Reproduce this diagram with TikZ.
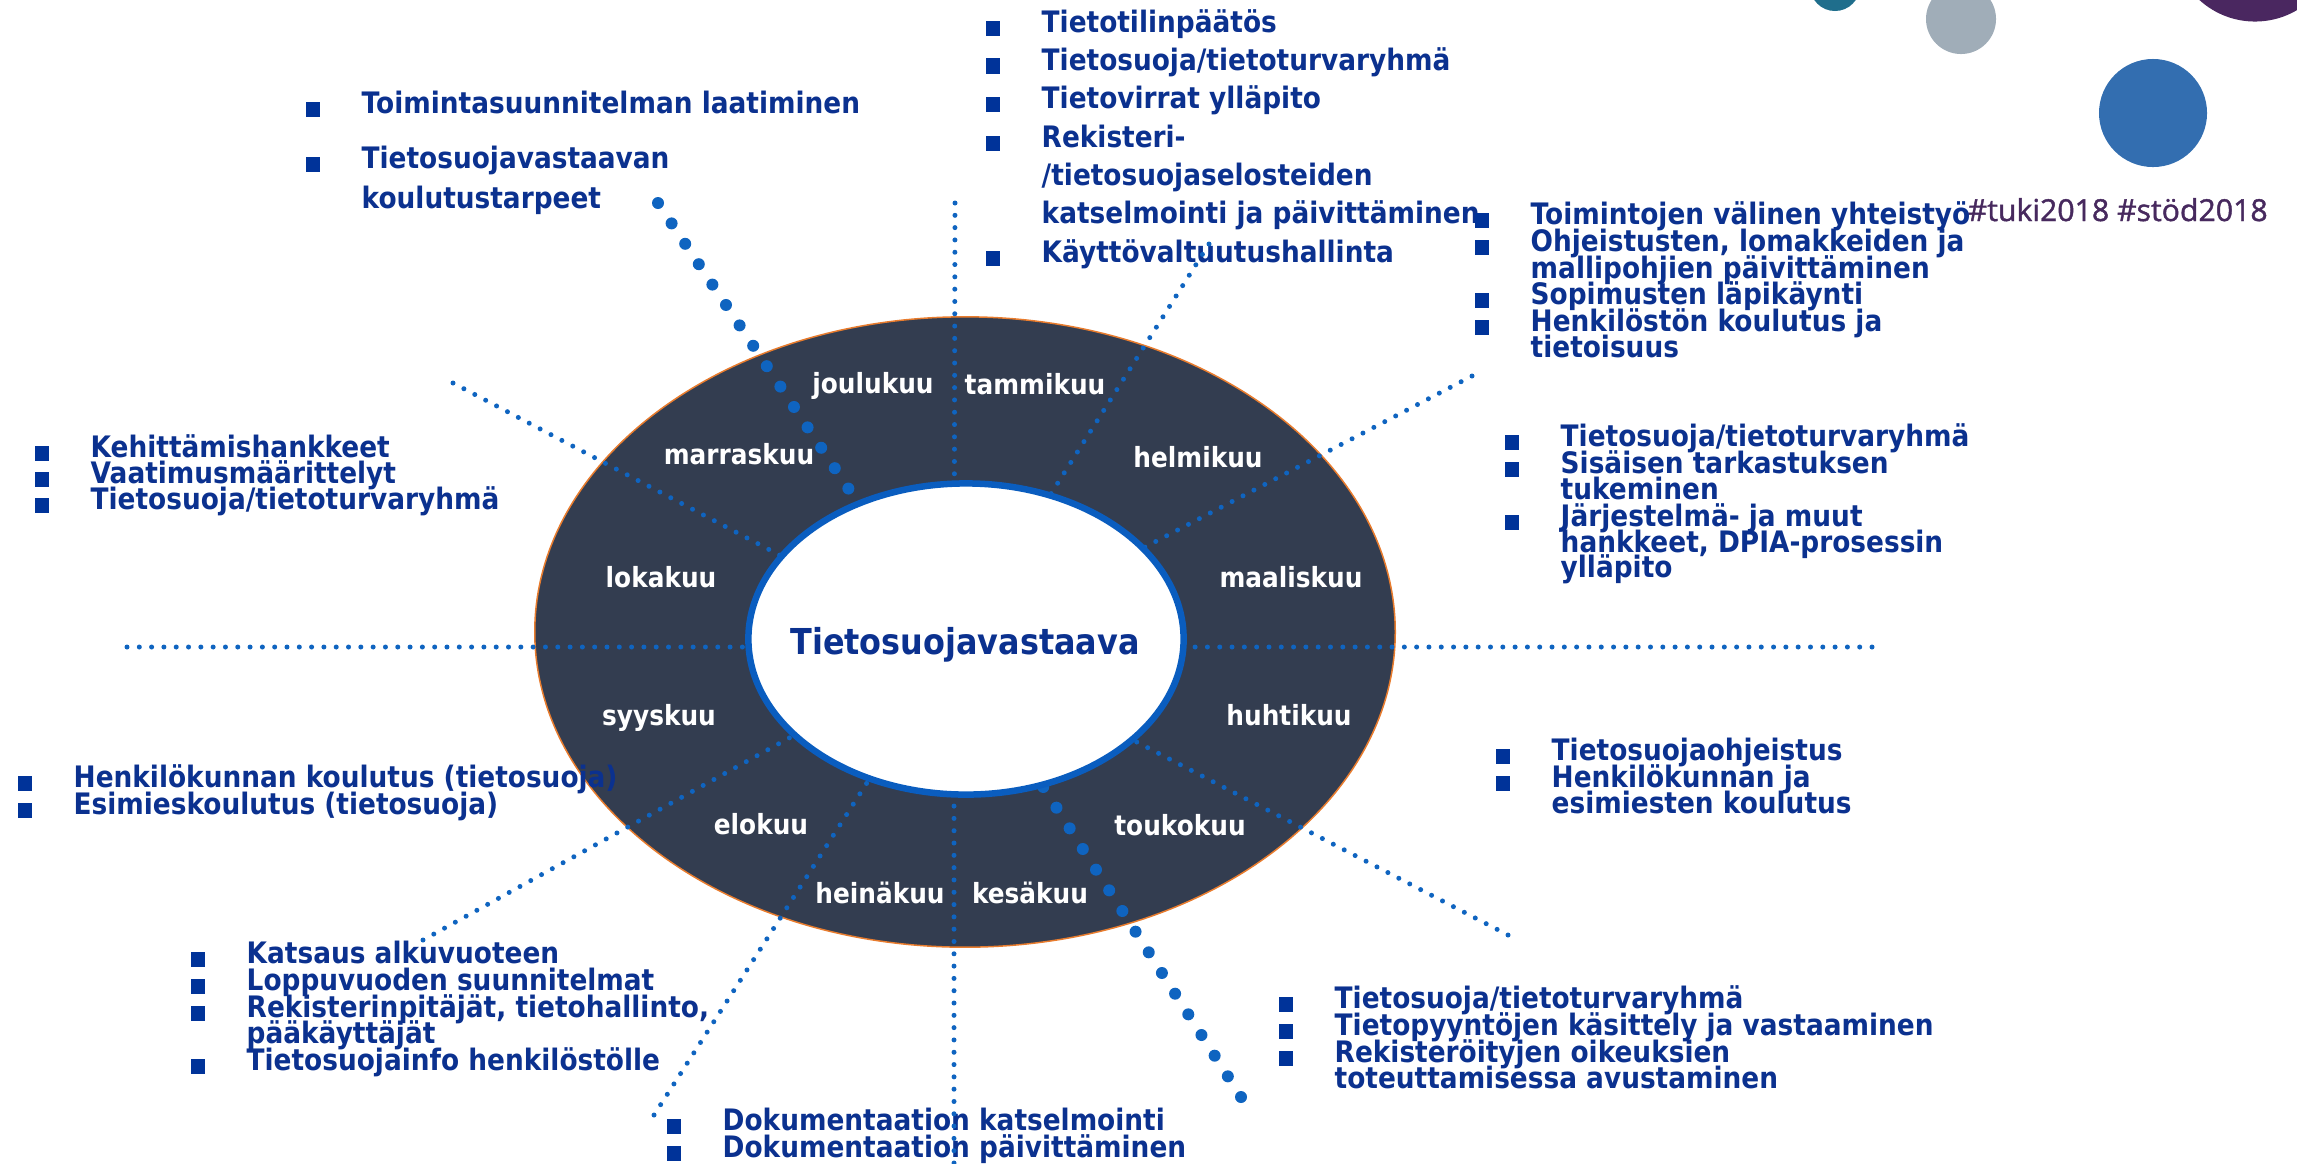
\documentclass[tikz,border=0pt]{standalone}
\usepackage{fontspec}
\setmainfont{DejaVu Sans}[FakeStretch=0.893]
\newfontfamily\hashfont{Open Sans}[FakeBold=1.4]
\usetikzlibrary{shapes.geometric}
\definecolor{ringc}{HTML}{333D50}
\definecolor{rimc}{HTML}{E87C2E}
\definecolor{corec}{HTML}{0A5DBF}
\definecolor{rayc}{HTML}{0F64C0}
\definecolor{navy}{HTML}{0B318F}
\definecolor{bulc}{HTML}{003399}
\definecolor{hashc}{HTML}{47295E}
\definecolor{dotblue}{HTML}{336EB0}
\definecolor{dotgray}{HTML}{A0ADB8}
\definecolor{dotteal}{HTML}{1F6E8C}
\definecolor{dotpurple}{HTML}{4A2760}
\newcommand\bul{\llap{\textcolor{bulc}{\rule[-0.035cm]{0.135cm}{0.15cm}}\hspace{0.42cm}}}
\begin{document}
\begin{tikzpicture}[x=0.01cm,y=-0.01cm,
  txt/.style={anchor=base west, inner sep=0pt, text=navy, font=\fontsize{8.4}{10}\selectfont\bfseries},
  mon/.style={anchor=base, inner sep=0pt, text=white, font=\fontsize{7.9}{9}\selectfont\bfseries},
  ray/.style={draw=rayc, line width=0.05cm, line cap=round, dash pattern=on 0pt off 0.123cm},
  bigray/.style={draw=rayc, line width=0.12cm, line cap=round, dash pattern=on 0pt off 0.245cm},
  blob/.style={circle, inner sep=0pt, draw=none}]
\useasboundingbox (0,0) rectangle (2297,1163);
\clip (0,0) rectangle (2297,1163);

% decorative circles
\node[blob, fill=dotteal, minimum size=0.50cm] (ct) at (1835,-14) {};
\node[blob, fill=dotgray, minimum size=0.70cm] (cg) at (1961,19) {};
\node[blob, fill=dotpurple, minimum size=1.65cm] (cp) at (2255,-61) {};
\node[blob, fill=dotblue, minimum size=1.08cm] (cb) at (2153,113) {};
\node[anchor=base west, inner sep=0pt, text=hashc, font=\hashfont\fontsize{8.6}{10}\selectfont] (hash) at (1967,221) {\#tuki2018 \#stöd2018};

% ring
\node[ellipse, inner sep=0pt, minimum width=8.60cm, minimum height=6.30cm, fill=ringc, draw=rimc, line width=0.015cm] (ring) at (965,632) {};

% block A
\node[txt] (a1) at (361,113) {\bul Toimintasuunnitelman laatiminen};
\node[txt] (a2) at (361,168) {\bul Tietosuojavastaavan};
\node[txt] (a3) at (361,208) {koulutustarpeet};
% block B
\node[txt] (b1) at (1041,32) {\bul Tietotilinpäätös};
\node[txt] (b2) at (1041,70) {\bul Tietosuoja/tietoturvaryhmä};
\node[txt] (b3) at (1041,108) {\bul Tietovirrat ylläpito};
\node[txt] (b4) at (1041,147) {\bul Rekisteri-};
\node[txt] (b5) at (1041,185) {/tietosuojaselosteiden};
\node[txt] (b6) at (1041,223) {katselmointi ja päivittäminen};
\node[txt] (b7) at (1041,262) {\bul Käyttövaltuutushallinta};
% block C
\node[txt] (c1) at (1530,224) {\bul Toimintojen välinen yhteistyö};
\node[txt] (c2) at (1530,251) {\bul Ohjeistusten, lomakkeiden ja};
\node[txt] (c3) at (1530,278) {mallipohjien päivittäminen};
\node[txt] (c4) at (1530,304) {\bul Sopimusten läpikäynti};
\node[txt] (c5) at (1530,331) {\bul Henkilöstön koulutus ja};
\node[txt] (c6) at (1530,357) {tietoisuus};
% block D
\node[txt] (d1) at (1560,446) {\bul Tietosuoja/tietoturvaryhmä};
\node[txt] (d2) at (1560,473) {\bul Sisäisen tarkastuksen};
\node[txt] (d3) at (1560,499) {tukeminen};
\node[txt] (d4) at (1560,526) {\bul Järjestelmä- ja muut};
\node[txt] (d5) at (1560,552) {hankkeet, DPIA-prosessin};
\node[txt] (d6) at (1560,577) {ylläpito};
% block E
\node[txt] (e1) at (1551,760) {\bul Tietosuojaohjeistus};
\node[txt] (e2) at (1551,787) {\bul Henkilökunnan ja};
\node[txt] (e3) at (1551,813) {esimiesten koulutus};
% block F
\node[txt] (f1) at (1334,1008) {\bul Tietosuoja/tietoturvaryhmä};
\node[txt] (f2) at (1334,1035) {\bul Tietopyyntöjen käsittely ja vastaaminen};
\node[txt] (f3) at (1334,1062) {\bul Rekisteröityjen oikeuksien};
\node[txt] (f4) at (1334,1088) {toteuttamisessa avustaminen};
% block G
\node[txt] (g1) at (722,1130) {\bul Dokumentaation katselmointi};
\node[txt] (g2) at (722,1157) {\bul Dokumentaation päivittäminen};
% block H
\node[txt] (h1) at (246,963) {\bul Katsaus alkuvuoteen};
\node[txt] (h2) at (246,990) {\bul Loppuvuoden suunnitelmat};
\node[txt] (h3) at (246,1017) {\bul Rekisterinpitäjät, tietohallinto,};
\node[txt] (h4) at (246,1043) {pääkäyttäjät};
\node[txt] (h5) at (246,1070) {\bul Tietosuojainfo henkilöstölle};
% block I
\node[txt] (i1) at (73,787) {\bul Henkilökunnan koulutus (tietosuoja)};
\node[txt] (i2) at (73,814) {\bul Esimieskoulutus (tietosuoja)};
% block J
\node[txt] (j1) at (90,457) {\bul Kehittämishankkeet};
\node[txt] (j2) at (90,483) {\bul Vaatimusmäärittelyt};
\node[txt] (j3) at (90,509) {\bul Tietosuoja/tietoturvaryhmä};

% rays
\coordinate (hub) at (954,647);
\coordinate (r1) at (955,203);
\coordinate (r2) at (954,1163);
\coordinate (r3) at (127,647);
\coordinate (r4) at (1872,647);
\coordinate (r5) at (1209,244);
\coordinate (r6) at (1472,376);
\coordinate (r7) at (1508,935);
\coordinate (r8) at (1241,1097);
\coordinate (r9) at (654,1115);
\coordinate (r10) at (423,940);
\coordinate (r11) at (453,383);
\coordinate (r12) at (658,203);
\foreach \r in {r1,r2,r3,r4,r5,r6,r7,r9,r10,r11} {\draw[ray] (\r) -- (hub);}
\draw[bigray] (r8) -- (hub);
\draw[bigray] (r12) -- (hub);

% core
\node[ellipse, inner sep=0pt, minimum width=4.35cm, minimum height=3.11cm, fill=white, draw=corec, line width=0.065cm] (core) at (966,639) {};
\node[anchor=base, inner sep=0pt, text=navy, font=\fontsize{10.15}{12}\selectfont\bfseries] (title) at (965,654) {Tietosuojavastaava};

% months
\node[mon] (m1) at (1035,394) {tammikuu};
\node[mon] (m2) at (1198,467) {helmikuu};
\node[mon] (m3) at (1291,587) {maaliskuu};
\node[mon] (m4) at (1289,725) {huhtikuu};
\node[mon] (m5) at (1180,835) {toukokuu};
\node[mon] (m6) at (1030,903) {kesäkuu};
\node[mon] (m7) at (880,903) {heinäkuu};
\node[mon] (m8) at (761,834) {elokuu};
\node[mon] (m9) at (659,725) {syyskuu};
\node[mon] (m10) at (661,587) {lokakuu};
\node[mon] (m11) at (739,464) {marraskuu};
\node[mon] (m12) at (873,393) {joulukuu};
\end{tikzpicture}
\end{document}
